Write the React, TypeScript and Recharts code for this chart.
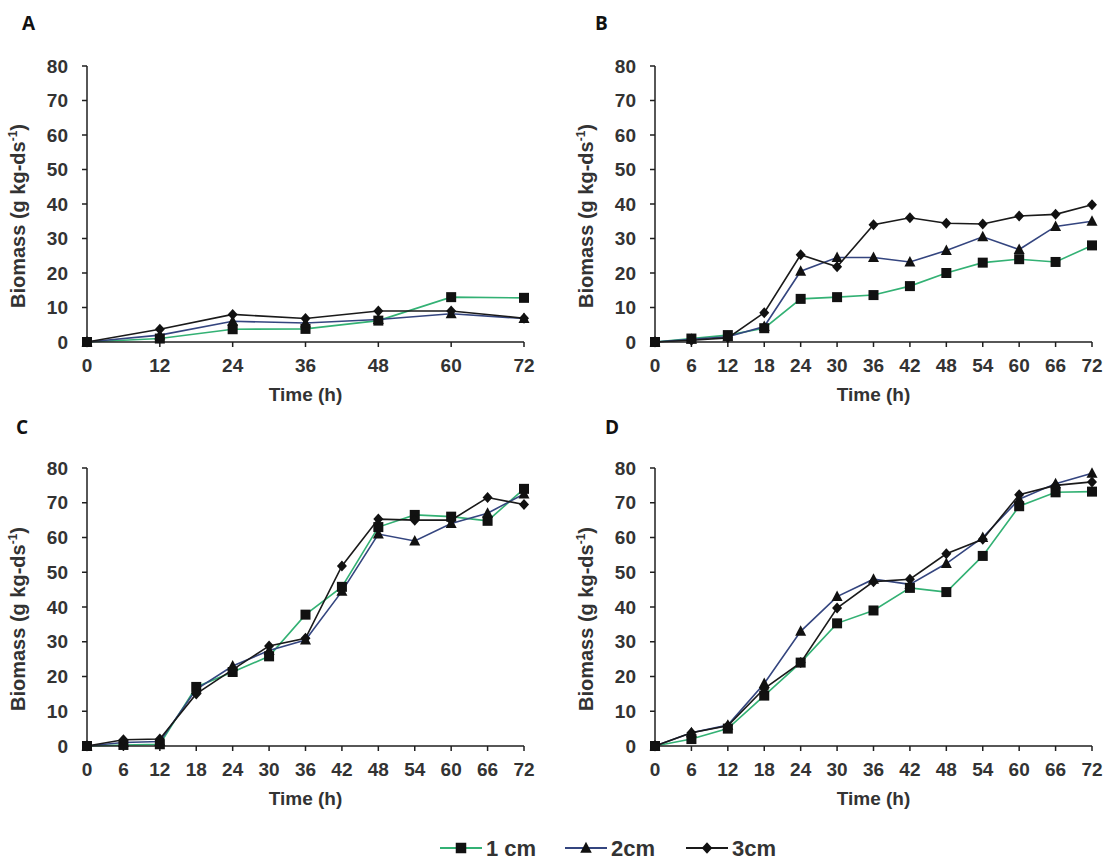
import React from "react";
import { LineChart, Line, XAxis, YAxis, Label } from "recharts";

// ---- data: biomass (g kg-ds^-1) over time (h) for three bed heights ----
const seriesNames = ["1 cm", "2cm", "3cm"];

const timesA = [0, 12, 24, 36, 48, 60, 72];
const a1cm = [0, 1.0, 3.7, 3.8, 6.2, 13.0, 12.8];
const a2cm = [0, 2.0, 6.0, 5.5, 6.5, 8.2, 6.8];
const a3cm = [0, 3.7, 8.0, 6.8, 9.0, 9.0, 6.9];

const times6h = [0, 6, 12, 18, 24, 30, 36, 42, 48, 54, 60, 66, 72];

const b1cm = [0, 1.0, 2.0, 4.0, 12.5, 13.0, 13.6, 16.2, 20.0, 23.0, 24.0, 23.2, 28.0];
const b2cm = [0, 0.8, 1.5, 4.5, 20.5, 24.5, 24.5, 23.2, 26.5, 30.5, 26.8, 33.5, 35.0];
const b3cm = [0, 0.5, 1.2, 8.5, 25.3, 21.8, 34.0, 36.0, 34.4, 34.2, 36.5, 37.0, 39.8];

const c1cm = [0, 0.3, 0.5, 17.0, 21.3, 25.8, 37.8, 45.8, 63.0, 66.5, 66.0, 64.8, 74.0];
const c2cm = [0, 1.0, 1.3, 16.3, 23.0, 27.5, 30.5, 44.5, 61.0, 59.0, 64.0, 67.0, 72.5];
const c3cm = [0, 1.8, 2.0, 15.0, 22.0, 28.8, 31.0, 51.8, 65.3, 65.0, 65.0, 71.5, 69.5];

const d1cm = [0, 2.0, 5.0, 14.5, 24.0, 35.3, 39.0, 45.5, 44.3, 54.7, 69.0, 73.0, 73.2];
const d2cm = [0, 3.8, 6.0, 18.0, 33.0, 43.0, 48.0, 46.5, 52.5, 60.0, 71.0, 75.5, 78.5];
const d3cm = [0, 3.8, 5.8, 16.5, 24.0, 39.7, 47.3, 48.0, 55.3, 59.5, 72.3, 75.0, 76.0];

const yTicks = [0, 10, 20, 30, 40, 50, 60, 70, 80];

// ---- styling ----
const FONT = "'Liberation Sans', Arial, sans-serif";
const TEXT = "#333333";
const AXIS = "#1f1f1f";
const MARK = "#111111";
const COLORS = ["#33B174", "#34457F", "#1A1A1A"];
const SHAPES = ["square", "triangle", "diamond"];

function markerEl(shape: string, cx: number, cy: number, key?: React.Key, scale = 1) {
  if (cx == null || cy == null || isNaN(cx) || isNaN(cy)) return <g key={key} />;
  if (shape === "square") {
    const s = 5 * scale;
    return <rect key={key} x={cx - s} y={cy - s} width={2 * s} height={2 * s} fill={MARK} />;
  }
  if (shape === "triangle") {
    const w = 5.5 * scale;
    return (
      <polygon
        key={key}
        points={`${cx},${cy - 6 * scale} ${cx - w},${cy + 4.5 * scale} ${cx + w},${cy + 4.5 * scale}`}
        fill={MARK}
      />
    );
  }
  const r = 5.5 * scale;
  return (
    <polygon
      key={key}
      points={`${cx},${cy - r} ${cx + r - 0.5},${cy} ${cx},${cy + r} ${cx - r + 0.5},${cy}`}
      fill={MARK}
    />
  );
}

const dotFor = (shape: string) => (p: any) => markerEl(shape, p.cx, p.cy, `${shape}-${p.index}`);

function YTitle(props: any) {
  const vb = props.viewBox || { x: 0, y: 0, width: 0, height: 0 };
  const x = vb.x + vb.width - 62;
  const y = vb.y + vb.height / 2 + 12;
  return (
    <text
      x={x}
      y={y}
      transform={`rotate(-90 ${x} ${y})`}
      textAnchor="middle"
      fontFamily={FONT}
      fontWeight={700}
      fontSize={20}
      fill={TEXT}
    >
      Biomass (g kg-ds
      <tspan dy={-8} fontSize={12}>
        -1
      </tspan>
      <tspan dy={8}>)</tspan>
    </text>
  );
}

function XTitle(props: any) {
  const vb = props.viewBox || { x: 0, y: 0, width: 0, height: 0 };
  return (
    <text
      x={vb.x + vb.width / 2}
      y={vb.y + 59}
      textAnchor="middle"
      fontFamily={FONT}
      fontWeight={700}
      fontSize={19}
      fill={TEXT}
    >
      Time (h)
    </text>
  );
}

type PanelProps = {
  times: number[];
  s1: number[];
  s2: number[];
  s3: number[];
  left: number;
  top: number;
  width: number;
  height: number;
  yWidth: number;
  margin: { top: number; right: number; bottom: number; left: number };
};

function Panel({ times, s1, s2, s3, left, top, width, height, yWidth, margin }: PanelProps) {
  const rows = times.map((t, i) => ({ t, v1: s1[i], v2: s2[i], v3: s3[i] }));
  const tickStyle = { fontFamily: FONT, fontWeight: 700, fontSize: 19, fill: TEXT };
  const keys = ["v1", "v2", "v3"];
  return (
    <div style={{ position: "absolute", left, top }}>
      <LineChart width={width} height={height} data={rows} margin={margin}>
        <XAxis
          dataKey="t"
          type="number"
          domain={[0, 72]}
          ticks={times}
          interval={0}
          height={60}
          tick={tickStyle}
          tickSize={5}
          tickMargin={12}
          axisLine={{ stroke: AXIS, strokeWidth: 1.5 }}
          tickLine={{ stroke: AXIS, strokeWidth: 1.5 }}
        >
          <Label content={<XTitle />} />
        </XAxis>
        <YAxis
          type="number"
          domain={[0, 80]}
          ticks={yTicks}
          interval={0}
          width={yWidth}
          tick={tickStyle}
          tickSize={5}
          tickMargin={14}
          axisLine={{ stroke: AXIS, strokeWidth: 1.5 }}
          tickLine={{ stroke: AXIS, strokeWidth: 1.5 }}
        >
          <Label content={<YTitle />} />
        </YAxis>
        {keys.map((k, i) => (
          <Line
            key={k}
            dataKey={k}
            name={seriesNames[i]}
            type="linear"
            stroke={COLORS[i]}
            strokeWidth={1.6}
            dot={dotFor(SHAPES[i])}
            activeDot={false}
            isAnimationActive={false}
          />
        ))}
      </LineChart>
    </div>
  );
}

// panel letters and shared legend
const LETTERS = [
  { t: "A", x: 22, y: 30 },
  { t: "B", x: 595, y: 30 },
  { t: "C", x: 16, y: 434 },
  { t: "D", x: 605, y: 434 },
];
const LEGEND_X = [440, 565, 686];
const LEGEND_Y = 848;

export default function App() {
  return (
    <div
      style={{
        position: "absolute",
        left: 0,
        top: 0,
        width: 1105,
        height: 861,
        background: "#ffffff",
        overflow: "hidden",
      }}
    >
      <Panel
        times={timesA}
        s1={a1cm}
        s2={a2cm}
        s3={a3cm}
        left={0}
        top={0}
        width={552}
        height={410}
        yWidth={87}
        margin={{ top: 66, right: 28, bottom: 8, left: 0 }}
      />
      <Panel
        times={times6h}
        s1={b1cm}
        s2={b2cm}
        s3={b3cm}
        left={552}
        top={0}
        width={553}
        height={410}
        yWidth={103}
        margin={{ top: 66, right: 13, bottom: 8, left: 0 }}
      />
      <Panel
        times={times6h}
        s1={c1cm}
        s2={c2cm}
        s3={c3cm}
        left={0}
        top={410}
        width={552}
        height={410}
        yWidth={87}
        margin={{ top: 58, right: 28, bottom: 14, left: 0 }}
      />
      <Panel
        times={times6h}
        s1={d1cm}
        s2={d2cm}
        s3={d3cm}
        left={552}
        top={410}
        width={553}
        height={410}
        yWidth={103}
        margin={{ top: 58, right: 13, bottom: 14, left: 0 }}
      />
      <svg
        width={1105}
        height={861}
        style={{ position: "absolute", left: 0, top: 0, pointerEvents: "none" }}
      >
        {LETTERS.map((l) => (
          <text
            key={l.t}
            x={l.x}
            y={l.y}
            fontFamily="'Open Sans', sans-serif"
            fontWeight={700}
            fontSize={19}
            fill="#111"
          >
            {l.t}
          </text>
        ))}
        {seriesNames.map((name, i) => {
          const x0 = LEGEND_X[i];
          return (
            <g key={name}>
              <line x1={x0} y1={LEGEND_Y} x2={x0 + 42} y2={LEGEND_Y} stroke={COLORS[i]} strokeWidth={1.8} />
              {markerEl(SHAPES[i], x0 + 21, LEGEND_Y, undefined, 1.05)}
              <text
                x={x0 + 46}
                y={LEGEND_Y + 8}
                fontFamily={FONT}
                fontWeight={700}
                fontSize={22}
                fill={TEXT}
              >
                {name}
              </text>
            </g>
          );
        })}
      </svg>
    </div>
  );
}
